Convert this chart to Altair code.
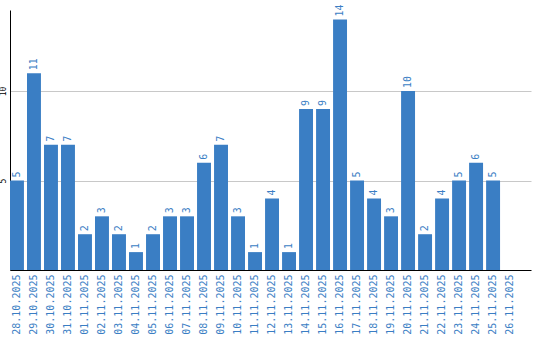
import altair as alt
import pandas as pd

dates = ["28.10.2025", "29.10.2025", "30.10.2025", "31.10.2025", "01.11.2025",
         "02.11.2025", "03.11.2025", "04.11.2025", "05.11.2025", "06.11.2025",
         "07.11.2025", "08.11.2025", "09.11.2025", "10.11.2025", "11.11.2025",
         "12.11.2025", "13.11.2025", "14.11.2025", "15.11.2025", "16.11.2025",
         "17.11.2025", "18.11.2025", "19.11.2025", "20.11.2025", "21.11.2025",
         "22.11.2025", "23.11.2025", "24.11.2025", "25.11.2025", "26.11.2025"]
values = [5, 11, 7, 7, 2, 3, 2, 1, 2, 3, 3, 6, 7, 3, 1, 4, 1, 9, 9, 14,
          5, 4, 3, 10, 2, 4, 5, 6, 5, None]
y_ticks = [5, 10]

df = pd.DataFrame({"date": dates, "value": values})

BLUE = "#3a7ec4"
FONT = "DejaVu Sans Mono"

x = alt.X("date:N", sort=dates,
          scale=alt.Scale(domain=dates, paddingInner=0.18, paddingOuter=0.41, align=0),
          axis=alt.Axis(title=None, labelAngle=270, labelAlign="right", labelBaseline="middle",
                        labelColor=BLUE, labelFont=FONT, labelFontSize=10, labelPadding=4,
                        ticks=False, tickSize=0, domainColor="black", domainWidth=1,
                        domainOpacity=1, grid=False, labelOverlap=False))
y = alt.Y("value:Q",
          scale=alt.Scale(domain=[0, 14.53], nice=False),
          axis=alt.Axis(title=None, values=y_ticks, labelAngle=270, labelAlign="center",
                        labelBaseline="bottom", labelFont=FONT, labelFontSize=8,
                        labelColor="black", labelPadding=3, ticks=False, tickSize=0,
                        domainColor="black", domainWidth=1, domainOpacity=1, grid=True,
                        gridColor="#c8c8c8", gridWidth=1))

bars = alt.Chart(df).mark_bar(color=BLUE).encode(x=x, y=y)
labels = alt.Chart(df).transform_filter("datum.value != null").mark_text(
    angle=270, align="left", baseline="middle", dx=3, color=BLUE, font=FONT, fontSize=10
).encode(x=x, y=y, text="value:Q")

chart = alt.layer(bars, labels).properties(
    width=521, height=260,
    background="white",
    autosize=alt.AutoSizeParams(type="none"),
    padding={"left": 10, "top": 10, "right": 9, "bottom": 70},
).configure_view(stroke=None, strokeWidth=0)

chart.save("out.html", embed_options={"renderer": "svg", "actions": False})
